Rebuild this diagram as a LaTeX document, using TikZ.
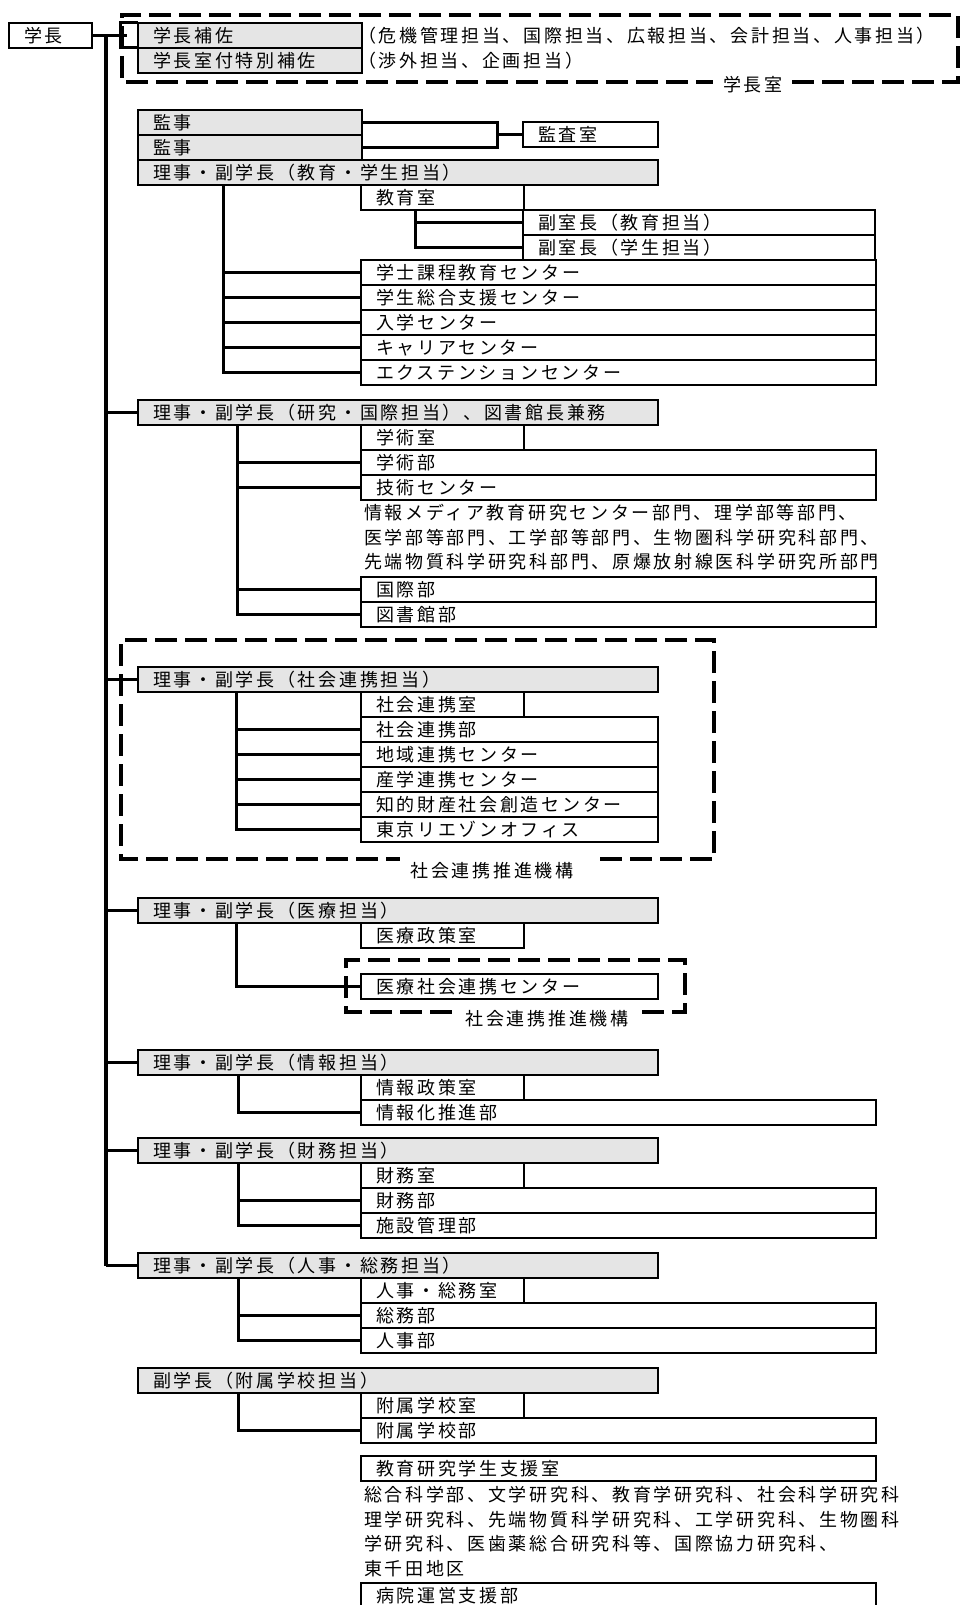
\documentclass[tikz,border=0pt]{standalone}
\usepackage{fontspec}
\setmainfont[LetterSpace=15]{Noto Sans CJK JP}
\usetikzlibrary{calc}
\newcommand\lblfont{\fontsize{18pt}{20pt}\selectfont}
\begin{document}
\begin{tikzpicture}[x=1pt,y=-1pt,font=\lblfont,
  base/.style={draw=black,line width=2.8pt,anchor=north west,minimum height=25pt,inner xsep=15pt,inner ysep=0pt,outer sep=0pt,align=left},
  gbox/.style={base,fill=black!10},
  wA/.style={minimum width=224pt,text width=194pt},
  wR/.style={minimum width=520pt,text width=490pt},
  wS/.style={minimum width=163pt,text width=133pt},
  wL/.style={minimum width=515pt,text width=485pt},
  wM/.style={minimum width=297pt,text width=267pt},
  wV/.style={minimum width=352pt,text width=322pt},
  wK/.style={minimum width=135pt,text width=105pt},
  ln/.style={line width=3pt},
  dsh/.style={line width=4.5pt,dash pattern=on 22pt off 8pt},
  txt/.style={anchor=west,inner sep=0pt,outer sep=0pt},
  ctxt/.style={anchor=center,inner sep=0pt,outer sep=0pt}]
\useasboundingbox (0,0) rectangle (962,1605);
\fill[white] (0,0) rectangle (962,1605);

% ---- top: president
\draw[dsh] (792,82) -- (958,82) -- (958,15) -- (122,15) -- (122,82) -- (713,82);
\node[ctxt] (gsl) at (753,85) {学長室};
\node[base,minimum width=83pt,text width=53pt] (gc) at (9,23) {学長};
\node[gbox,wA] (h1) at (138,23) {学長補佐};
\node[gbox,wA] (h2) at (138,48) {学長室付特別補佐};
\node[txt] (h1t) at (358,35.5) {（危機管理担当、国際担当、広報担当、会計担当、人事担当）};
\node[txt] (h2t) at (358,60.5) {（渉外担当、企画担当）};
\coordinate (gj) at (127,35.5);
\coordinate (bj) at (120,23);
\coordinate (t0) at (106,35.5);
\coordinate (t1) at (106,1265.5);
\draw[ln] (gc.east) -- (gj);
\draw[ln] (h1.north west) -- (bj) |- (h2.north west);
\draw[line width=3.2pt] (t0) -- (t1);

% ---- auditors
\node[gbox,wA] (m1) at (138,110) {監事};
\node[gbox,wA] (m2) at (138,135) {監事};
\node[base,wK] (ms) at (523,122) {監査室};
\coordinate (mj) at (497,134.5);
\draw[ln] (m1.east) -| (mj) |- (m2.east);
\draw[ln] (mj) -- (ms.west);

% ---- education
\node[gbox,wR] (rE) at (138,160) {理事・副学長（教育・学生担当）};
\node[base,wS] (eS) at (361,185) {教育室};
\node[base,wV] (v1) at (523,210) {副室長（教育担当）};
\node[base,wV] (v2) at (523,235) {副室長（学生担当）};
\node[base,wL] (e1) at (361,260) {学士課程教育センター};
\node[base,wL] (e2) at (361,285) {学生総合支援センター};
\node[base,wL] (e3) at (361,310) {入学センター};
\node[base,wL] (e4) at (361,335) {キャリアセンター};
\node[base,wL] (e5) at (361,360) {エクステンションセンター};
\coordinate (eV) at (223,185);
\draw[ln] (eV) |- (e5.west);
\foreach \n in {e1,e2,e3,e4} \draw[ln] (\n.west) -- (\n.west -| eV);
\coordinate (eW) at (415,210);
\draw[ln] (eW) |- (v2.west);
\draw[ln] (v1.west) -- (v1.west -| eW);

% ---- research
\node[gbox,wR] (rK) at (138,400) {理事・副学長（研究・国際担当）、図書館長兼務};
\draw[ln] (rK.west -| t0) -- (rK.west);
\node[base,wS] (kS) at (361,425) {学術室};
\node[base,wL] (k3) at (361,450) {学術部};
\node[base,wL] (k4) at (361,475) {技術センター};
\node[txt] (kt1) at (364,513) {情報メディア教育研究センター部門、理学部等部門、};
\node[txt] (kt2) at (364,538) {医学部等部門、工学部等部門、生物圏科学研究科部門、};
\node[txt] (kt3) at (364,562) {先端物質科学研究科部門、原爆放射線医科学研究所部門};
\node[base,wL] (k5) at (361,577) {国際部};
\node[base,wL] (k6) at (361,602) {図書館部};
\coordinate (kV) at (237,425);
\draw[ln] (kV) |- (k6.west);
\foreach \n in {k3,k4,k5} \draw[ln] (\n.west) -- (\n.west -| kV);

% ---- social cooperation
\draw[dsh] (600,859) -- (714,859) -- (714,640) -- (121,640) -- (121,859) -- (400,859);
\node[ctxt] (sl) at (492,871) {社会連携推進機構};
\node[gbox,wR] (rS) at (138,667) {理事・副学長（社会連携担当）};
\draw[ln] (rS.west -| t0) -- (rS.west);
\node[base,wS] (sS) at (361,692) {社会連携室};
\node[base,wM] (s1) at (361,717) {社会連携部};
\node[base,wM] (s2) at (361,742) {地域連携センター};
\node[base,wM] (s3) at (361,767) {産学連携センター};
\node[base,wM] (s4) at (361,792) {知的財産社会創造センター};
\node[base,wM] (s5) at (361,817) {東京リエゾンオフィス};
\coordinate (sV) at (236,692);
\draw[ln] (sV) |- (s5.west);
\foreach \n in {s1,s2,s3,s4} \draw[ln] (\n.west) -- (\n.west -| sV);

% ---- medical
\node[gbox,wR] (rI) at (138,898) {理事・副学長（医療担当）};
\draw[ln] (rI.west -| t0) -- (rI.west);
\node[base,wS] (iS) at (361,923) {医療政策室};
\draw[dsh] (642,1012) -- (685,1012) -- (685,960) -- (346,960) -- (346,1012) -- (453,1012);
\node[ctxt] (il) at (547,1019) {社会連携推進機構};
\node[base,wM] (i1) at (361,974) {医療社会連携センター};
\coordinate (iV) at (236,923);
\draw[ln] (iV) |- (i1.west);

% ---- information
\node[gbox,wR] (rJ) at (138,1050) {理事・副学長（情報担当）};
\draw[ln] (rJ.west -| t0) -- (rJ.west);
\node[base,wS] (jS) at (361,1075) {情報政策室};
\node[base,wL] (j1) at (361,1100) {情報化推進部};
\coordinate (jV) at (238,1075);
\draw[ln] (jV) |- (j1.west);

% ---- finance
\node[gbox,wR] (rZ) at (138,1138) {理事・副学長（財務担当）};
\draw[ln] (rZ.west -| t0) -- (rZ.west);
\node[base,wS] (zS) at (361,1163) {財務室};
\node[base,wL] (z1) at (361,1188) {財務部};
\node[base,wL] (z2) at (361,1213) {施設管理部};
\coordinate (zV) at (238,1163);
\draw[ln] (zV) |- (z2.west);
\draw[ln] (z1.west) -- (z1.west -| zV);

% ---- personnel
\node[gbox,wR] (rH) at (138,1253) {理事・副学長（人事・総務担当）};
\draw[ln] (rH.west -| t0) -- (rH.west);
\node[base,wS] (hS) at (361,1278) {人事・総務室};
\node[base,wL] (x1) at (361,1303) {総務部};
\node[base,wL] (x2) at (361,1328) {人事部};
\coordinate (hV) at (238,1278);
\draw[ln] (hV) |- (x2.west);
\draw[ln] (x1.west) -- (x1.west -| hV);

% ---- attached schools
\node[gbox,wR] (rF) at (138,1368) {副学長（附属学校担当）};
\node[base,wS] (fS) at (361,1393) {附属学校室};
\node[base,wL] (f1) at (361,1418) {附属学校部};
\coordinate (fV) at (238,1393);
\draw[ln] (fV) |- (f1.west);

% ---- support office
\node[base,wL] (ss) at (361,1456) {教育研究学生支援室};
\node[txt] (st1) at (364,1495) {総合科学部、文学研究科、教育学研究科、社会科学研究科};
\node[txt] (st2) at (364,1520) {理学研究科、先端物質科学研究科、工学研究科、生物圏科};
\node[txt] (st3) at (364,1544) {学研究科、医歯薬総合研究科等、国際協力研究科、};
\node[txt] (st4) at (364,1569) {東千田地区};
\node[base,wL] (hb) at (361,1583) {病院運営支援部};
\end{tikzpicture}
\end{document}
